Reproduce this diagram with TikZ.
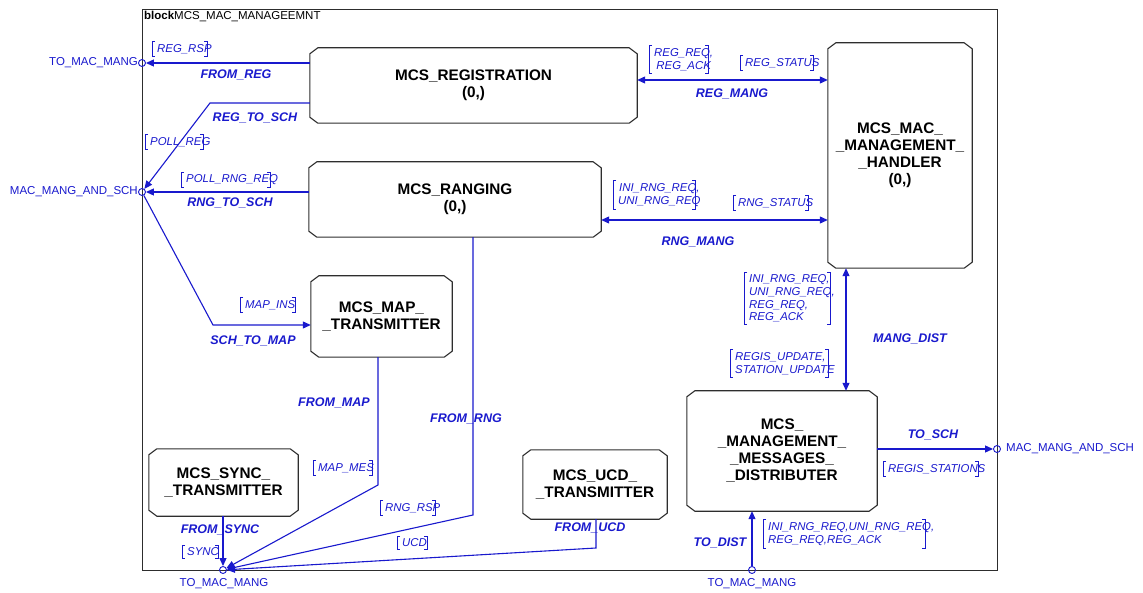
\documentclass[tikz,border=0pt]{standalone}
\usepackage{fontspec}
\setmainfont{Liberation Sans}
\usetikzlibrary{arrows.meta,calc}
\definecolor{wireblue}{RGB}{25,25,205}
\definecolor{boxgray}{RGB}{45,45,45}
\tikzset{
  framebox/.style={draw=boxgray, line width=1pt},
  blockbox/.style={rectangle, font=\fontsize{15.3}{17}\selectfont\bfseries, align=center, inner sep=0pt},
  outline/.style={draw=boxgray, line width=1.1pt, line join=miter},
  wire/.style={draw=wireblue, line width=1.1pt},
  tip/.style={-{Triangle[length=8pt,width=7pt]}},
  bitip/.style={{Triangle[length=8pt,width=7pt]}-{Triangle[length=8pt,width=7pt]}},
  port/.style={circle, draw=wireblue, line width=0.9pt, minimum size=7pt, inner sep=0pt},
  portlabel/.style={font=\fontsize{11.5}{13}\selectfont, text=wireblue, inner sep=0pt},
  wirename/.style={font=\fontsize{12.5}{14}\selectfont\bfseries\itshape, text=wireblue, inner sep=0pt},
  sigtext/.style={font=\fontsize{11.4}{12.6}\selectfont\itshape, text=wireblue,
    inner xsep=1pt, inner ysep=2.5pt},
  bracket/.style={draw=wireblue, line width=0.9pt},
}
% chamfered outline round a process node
\newcommand\chamfer[1]{%
  \draw[outline] ([xshift=8pt]#1.north west) -- ([xshift=-8pt]#1.north east)
    -- ([yshift=-6pt]#1.north east) -- ([yshift=6pt]#1.south east)
    -- ([xshift=-8pt]#1.south east) -- ([xshift=8pt]#1.south west)
    -- ([yshift=6pt]#1.south west) -- ([yshift=-6pt]#1.north west) -- cycle;
}
% signal list: [options]{name}{left bracket x}{centre y}{right bracket x}{text}
\newcommand\siglist[6][]{%
  \node[sigtext, anchor=west, #1] (#2) at (#3+4,#4) {#6};
  \draw[bracket] ([xshift=-1pt]#2.north west) -- ([xshift=-4pt]#2.north west)
    -- ([xshift=-4pt]#2.south west) -- ([xshift=-1pt]#2.south west);
  \draw[bracket] ([xshift={(#5-#3-7)*1pt}]#2.north west) -- ([xshift={(#5-#3-4)*1pt}]#2.north west)
    -- ([xshift={(#5-#3-4)*1pt}]#2.south west) -- ([xshift={(#5-#3-7)*1pt}]#2.south west);
}
\begin{document}
\begin{tikzpicture}[x=1pt,y=-1pt]
\useasboundingbox (0,0) rectangle (1143,593);

% enclosing block
\draw[framebox] (142,10) rectangle (997,570);
\node[anchor=west, font=\fontsize{11.5}{13}\selectfont, inner sep=0pt] (title) at (144,16)
  {\textbf{block}MCS\_MAC\_MANAGEEMNT};

% processes
\node[blockbox, minimum width=327pt, minimum height=75pt] (reg) at (473.5,85.5) {MCS\_REGISTRATION\\(0,)};
\node[blockbox, minimum width=292pt, minimum height=75pt] (rng) at (455,199.5) {MCS\_RANGING\\(0,)};
\node[blockbox, minimum width=144pt, minimum height=225pt] (hdl) at (900,155.5) {MCS\_MAC\_\\\_MANAGEMENT\_\\\_HANDLER\\(0,)};
\node[blockbox, minimum width=141pt, minimum height=81pt] (map) at (381.5,316.5) {MCS\_MAP\_\\\_TRANSMITTER};
\node[blockbox, minimum width=149pt, minimum height=67pt] (sync) at (223.5,482.5) {MCS\_SYNC\_\\\_TRANSMITTER};
\node[blockbox, minimum width=144pt, minimum height=69pt] (ucd) at (595,484.5) {MCS\_UCD\_\\\_TRANSMITTER};
\node[blockbox, minimum width=190pt, minimum height=120pt] (dist) at (782,451) {MCS\_\\\_MANAGEMENT\_\\\_MESSAGES\_\\\_DISTRIBUTER};
\chamfer{reg}
\chamfer{rng}
\chamfer{hdl}
\chamfer{map}
\chamfer{sync}
\chamfer{ucd}
\chamfer{dist}

% gates on the block frame
\node[port] (pTopL) at (142,63) {};
\node[port] (pSchL) at (142,192) {};
\node[port] (pMangL) at (223,570) {};
\node[port] (pMangB) at (752,570) {};
\node[port] (pSchR) at (997,449) {};

\node[portlabel, anchor=east] (lTopL) at (138,63) {TO\_MAC\_MANG};
\node[portlabel, anchor=east] (lSchL) at (138,192) {MAC\_MANG\_AND\_SCH};
\node[portlabel] (lMangL) at (224,584) {TO\_MAC\_MANG};
\node[portlabel] (lMangB) at (752,584) {TO\_MAC\_MANG};
\node[portlabel, anchor=west] (lSchR) at (1006,449) {MAC\_MANG\_AND\_SCH};

% bend points
\coordinate (kRegSch) at (210,103);
\coordinate (kSchMap) at (213,325);
\coordinate (kRegMang) at (730,80);
\coordinate (kRngMang) at (700,220);
\coordinate (kMangDist) at (846,330);
\coordinate (kFromMap) at (378,485);
\coordinate (kFromRng) at (473,515);
\coordinate (kFromUcd) at (596,548);

% signal routes
\draw[wire, tip] (reg.west |- pTopL) -- (pTopL);
\draw[wire, tip] (reg.west |- kRegSch) -- (kRegSch) -- (pSchL);
\draw[wire, tip] (rng.west |- pSchL) -- (pSchL);
\draw[wire, tip] (pSchL) -- (kSchMap) -- (map.west |- kSchMap);
\draw[wire, bitip] (reg.east |- kRegMang) -- (hdl.west |- kRegMang);
\draw[wire, bitip] (rng.east |- kRngMang) -- (hdl.west |- kRngMang);
\draw[wire, bitip] (hdl.south -| kMangDist) -- (dist.north -| kMangDist);
\draw[wire, tip] (dist.east |- pSchR) -- (pSchR);
\draw[wire, tip] (pMangB) -- (dist.south -| pMangB);
\draw[wire, tip] (map.south -| kFromMap) -- (kFromMap) -- (pMangL);
\draw[wire, tip] (rng.south -| kFromRng) -- (kFromRng) -- (pMangL);
\draw[wire, tip] (ucd.south -| kFromUcd) -- (kFromUcd) -- (pMangL);
\draw[wire, tip] (sync.south -| pMangL) -- (pMangL);

% route names
\node[wirename] (nFromReg) at (236,75) {FROM\_REG};
\node[wirename] (nRegSch) at (255,118) {REG\_TO\_SCH};
\node[wirename] (nRngSch) at (230,203) {RNG\_TO\_SCH};
\node[wirename] (nSchMap) at (253,341) {SCH\_TO\_MAP};
\node[wirename] (nFromMap) at (334,403) {FROM\_MAP};
\node[wirename] (nFromSync) at (220,530) {FROM\_SYNC};
\node[wirename] (nFromRng) at (466,419) {FROM\_RNG};
\node[wirename] (nFromUcd) at (590,528) {FROM\_UCD};
\node[wirename] (nToDist) at (720,543) {TO\_DIST};
\node[wirename] (nToSch) at (933,435) {TO\_SCH};
\node[wirename] (nMangDist) at (910,339) {MANG\_DIST};
\node[wirename] (nRegMang) at (732,94) {REG\_MANG};
\node[wirename] (nRngMang) at (698,242) {RNG\_MANG};

% signal lists
\siglist{sRegRsp}{152}{49}{207}{REG\_RSP}
\siglist{sPollReg}{145}{142}{203}{POLL\_REG}
\siglist{sPollRng}{181}{180}{270}{POLL\_RNG\_REQ}
\siglist{sMapIns}{240}{305}{295}{MAP\_INS}
\siglist[align=center]{sRegReq}{649}{59.5}{708}{REG\_REQ,\\REG\_ACK}
\siglist{sRegStat}{740}{63}{813}{REG\_STATUS}
\siglist[align=center]{sIniRng}{613}{195}{695}{INI\_RNG\_REQ,\\UNI\_RNG\_REQ}
\siglist{sRngStat}{733}{203}{808}{RNG\_STATUS}
\siglist[align=left]{sMangUp}{744}{298.5}{830}{INI\_RNG\_REQ,\\UNI\_RNG\_REQ,\\REG\_REQ,\\REG\_ACK}
\siglist[align=left]{sRegisUp}{730}{363.5}{828}{REGIS\_UPDATE,\\STATION\_UPDATE}
\siglist{sRegisSt}{883}{469}{978}{REGIS\_STATIONS}
\siglist[align=left]{sToDist}{763}{534}{925}{INI\_RNG\_REQ,UNI\_RNG\_REQ,\\REG\_REQ,REG\_ACK}
\siglist{sMapMes}{313}{468}{372}{MAP\_MES}
\siglist{sRngRsp}{380}{508}{435}{RNG\_RSP}
\siglist{sUcd}{397}{543}{427}{UCD}
\siglist{sSync}{182}{552}{218}{SYNC}
\end{tikzpicture}
\end{document}
